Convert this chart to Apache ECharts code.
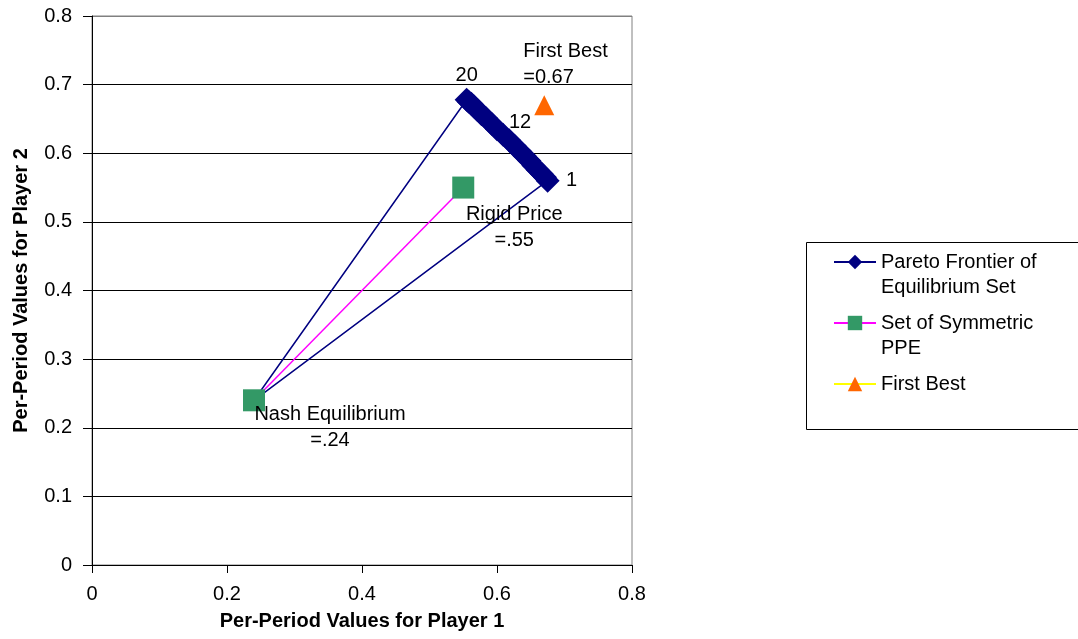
<!DOCTYPE html>
<html>
<head>
<meta charset="utf-8">
<script src="https://cdn.jsdelivr.net/npm/echarts@6/dist/echarts.min.js"></script>
<style>
html,body{margin:0;padding:0;background:#fff;}
#chart{width:1078px;height:639px;}
</style>
</head>
<body>
<div id="chart"></div>
<script>
// ---- data ----
const nashPoint = [0.24, 0.24];
// Pareto frontier points, numbered 1..20 (point 1 first)
const paretoX = [0.675, 0.671, 0.666, 0.660, 0.654, 0.648, 0.641, 0.634, 0.626, 0.618,
                 0.609, 0.600, 0.592, 0.584, 0.577, 0.571, 0.566, 0.562, 0.558, 0.555];
const paretoY = [0.560, 0.565, 0.570, 0.576, 0.582, 0.589, 0.596, 0.603, 0.611, 0.619,
                 0.627, 0.635, 0.643, 0.651, 0.657, 0.663, 0.668, 0.672, 0.675, 0.678];
const paretoLabelled = [1, 12, 20];
const ppeX = [0.24, 0.55];
const ppeY = [0.24, 0.55];
const ppeLabels = ['Nash Equilibrium\n=.24', 'Rigid Price\n=.55'];
const firstBestX = [0.67];
const firstBestY = [0.67];
const firstBestLabels = ['First Best\n=0.67'];
const seriesNames = ['Pareto Frontier of Equilibrium Set', 'Set of Symmetric PPE', 'First Best'];
const legendLabels = ['\nPareto Frontier of\nEquilibrium Set', '\nSet of Symmetric\nPPE', '\nFirst Best\n'];
const xTickLabels = ['0', '0.2', '0.4', '0.6', '0.8'];
const yTickLabels = ['0', '0.1', '0.2', '0.3', '0.4', '0.5', '0.6', '0.7', '0.8'];

const FONT = 'Liberation Sans, Arial, Helvetica, sans-serif';
const FS = 20;

// ---- build series data ----
const paretoLabelOffsets = {1: [24, 0], 12: [23, -7], 20: [0, -24]};
const paretoData = [];
paretoData.push({value: nashPoint.slice(), symbol: 'none'});
for (let i = paretoX.length - 1; i >= 0; i--) {
  const num = i + 1;
  const item = {value: [paretoX[i], paretoY[i]]};
  if (paretoLabelled.indexOf(num) >= 0) {
    item.label = {show: true, position: 'inside', offset: paretoLabelOffsets[num],
      formatter: String(num), color: '#000', fontSize: FS, fontFamily: FONT};
  }
  paretoData.push(item);
}
paretoData.push({value: nashPoint.slice(), symbol: 'none'});

const ppeOffsets = [[76, 27], [51, 40]];
const ppeData = ppeX.map((x, i) => ({
  value: [x, ppeY[i]],
  label: {show: true, position: 'inside', offset: ppeOffsets[i], formatter: ppeLabels[i],
    align: 'center', verticalAlign: 'middle', lineHeight: 26,
    color: '#000', fontSize: FS, fontFamily: FONT}
}));

const fbData = firstBestX.map((x, i) => ({
  value: [x, firstBestY[i]],
  label: {show: true, position: 'inside', offset: [-21, -41], formatter: firstBestLabels[i],
    align: 'left', verticalAlign: 'middle', lineHeight: 26,
    color: '#000', fontSize: FS, fontFamily: FONT}
}));

const splitColors = yTickLabels.map((t, i) => i === yTickLabels.length - 1 ? '#808080' : '#000');

const chart = echarts.init(document.getElementById('chart'));
chart.setOption({
  animation: false,
  backgroundColor: '#fff',
  textStyle: {fontFamily: FONT},
  grid: {left: 92, right: 446, top: 16, bottom: 74, show: true,
    borderColor: '#808080', borderWidth: 1, backgroundColor: '#fff'},
  graphic: [{
    type: 'rect', left: 806, top: 242, z: -1,
    shape: {width: 300, height: 187},
    style: {fill: '#fff', stroke: '#000', lineWidth: 1}
  }],
  xAxis: {
    type: 'value', min: 0, max: 0.8, interval: 0.2,
    name: 'Per-Period Values for Player 1', nameLocation: 'middle', nameGap: 46,
    nameTextStyle: {fontSize: FS, fontWeight: 'bold', color: '#000', fontFamily: FONT},
    axisLine: {show: true, onZero: false, lineStyle: {color: '#000', width: 1}},
    axisTick: {show: true, inside: false, length: 8, lineStyle: {color: '#000'}},
    axisLabel: {color: '#000', fontSize: FS, fontFamily: FONT, margin: 19,
      formatter: (v) => xTickLabels[Math.round(v / 0.2)]},
    splitLine: {show: false}
  },
  yAxis: {
    type: 'value', min: 0, max: 0.8, interval: 0.1,
    name: 'Per-Period Values for Player 2', nameLocation: 'middle', nameGap: 61,
    nameTextStyle: {fontSize: FS, fontWeight: 'bold', color: '#000', fontFamily: FONT},
    axisLine: {show: true, onZero: false, lineStyle: {color: '#000', width: 1}},
    axisTick: {show: true, inside: false, length: 9, lineStyle: {color: '#000'}},
    axisLabel: {color: '#000', fontSize: FS, fontFamily: FONT, margin: 20,
      formatter: (v) => yTickLabels[Math.round(v / 0.1)]},
    splitLine: {show: true, lineStyle: {color: splitColors, width: 1}}
  },
  legend: {
    orient: 'vertical', left: 833, top: 224.5,
    padding: 0,
    itemWidth: 42, itemHeight: 18, itemGap: -14,
    selectedMode: false,
    textStyle: {fontSize: FS, lineHeight: 25, color: '#000', fontFamily: FONT},
    formatter: (name) => legendLabels[seriesNames.indexOf(name)],
    data: seriesNames.slice()
  },
  series: [
    {
      name: seriesNames[0], type: 'line', data: paretoData,
      symbol: 'diamond', symbolSize: 24, showAllSymbol: true,
      itemStyle: {color: '#000080'},
      lineStyle: {color: '#000080', width: 1.5},
      emphasis: {disabled: true}, silent: true, z: 2
    },
    {
      name: seriesNames[1], type: 'line', data: ppeData,
      symbol: 'rect', symbolSize: 22,
      itemStyle: {color: '#339966'},
      lineStyle: {color: '#FF00FF', width: 1.5},
      emphasis: {disabled: true}, silent: true, z: 3
    },
    {
      name: seriesNames[2], type: 'line', data: fbData,
      symbol: 'triangle', symbolSize: 20,
      itemStyle: {color: '#FF6600'},
      lineStyle: {color: '#FFFF00', width: 1.5},
      emphasis: {disabled: true}, silent: true, z: 4
    }
  ]
});
</script>
</body>
</html>
